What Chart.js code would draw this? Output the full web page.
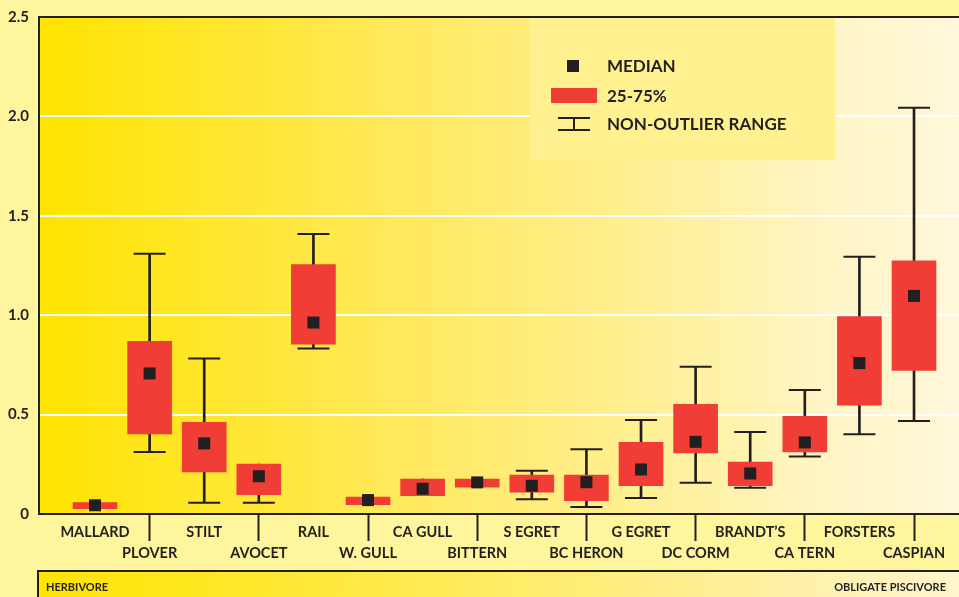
<!DOCTYPE html>
<html>
<head>
<meta charset="utf-8">
<script src="https://cdn.jsdelivr.net/npm/chart.js@4.4.1/dist/chart.umd.min.js"></script>
<style>
  html, body { margin: 0; padding: 0; background: #fff59c; }
  #wrap { width: 959px; height: 597px; position: relative; }
</style>
</head>
<body>
<div id="wrap"><canvas id="chart"></canvas></div>
<script>
const FONT = "Lato, 'Open Sans', sans-serif";
const INK = "#231f20";
const RED = "#f03d35";

const categories = ["MALLARD", "PLOVER", "STILT", "AVOCET", "RAIL", "W. GULL", "CA GULL", "BITTERN",
  "S EGRET", "BC HERON", "G EGRET", "DC CORM", "BRANDT\u2019S", "CA TERN", "FORSTERS", "CASPIAN"];
const medians = [0.044, 0.707, 0.355, 0.19, 0.963, 0.07, 0.127, 0.159, 0.142, 0.16, 0.224, 0.363, 0.204, 0.36, 0.759, 1.097];
const q1 = [0.027, 0.403, 0.212, 0.097, 0.854, 0.047, 0.092, 0.135, 0.11, 0.067, 0.142, 0.307, 0.142, 0.312, 0.548, 0.722];
const q3 = [0.057, 0.868, 0.461, 0.251, 1.254, 0.085, 0.176, 0.176, 0.196, 0.196, 0.361, 0.552, 0.261, 0.491, 0.993, 1.274];
const whiskLow = [null, 0.312, 0.057, 0.057, 0.832, null, null, null, 0.074, 0.035, 0.08, 0.157, 0.132, 0.289, 0.401, 0.468];
const whiskHigh = [null, 1.309, 0.782, null, 1.409, null, null, null, 0.217, 0.326, 0.473, 0.741, 0.413, 0.624, 1.294, 2.043];
const yTicks = [0, 0.5, 1.0, 1.5, 2.0, 2.5];
const bandLabels = ["HERBIVORE", "OBLIGATE PISCIVORE"];
const legendLabels = ["MEDIAN", "25-75%", "NON-OUTLIER RANGE"];

const idx = categories.map((c, i) => i);

const backdrop = {
  id: "backdrop",
  beforeDraw(chart) {
    const { ctx, chartArea: a, width, height } = chart;
    ctx.save();
    ctx.fillStyle = "#fff59c";
    ctx.fillRect(0, 0, width, height);

    let g = ctx.createLinearGradient(a.left, 0, a.right, 0);
    g.addColorStop(0, "#ffe400");
    g.addColorStop(0.4, "#ffe95e");
    g.addColorStop(0.62, "#ffef8c");
    g.addColorStop(0.86, "#fff5c6");
    g.addColorStop(1, "#fff8da");
    ctx.fillStyle = g;
    ctx.fillRect(a.left, a.top, a.right - a.left, a.bottom - a.top);

    // bottom band
    const top = 571;
    g = ctx.createLinearGradient(38, 0, width, 0);
    g.addColorStop(0, "#ffe500");
    g.addColorStop(0.3, "#ffe93a");
    g.addColorStop(0.8, "#fff0a4");
    g.addColorStop(1, "#fff6cc");
    ctx.fillStyle = g;
    ctx.fillRect(38, top, width - 38, height - top);
    ctx.strokeStyle = INK;
    ctx.lineWidth = 2;
    ctx.beginPath();
    ctx.moveTo(38, height);
    ctx.lineTo(38, top);
    ctx.lineTo(width, top);
    ctx.stroke();

    ctx.fillStyle = INK;
    ctx.font = "bold 11px " + FONT;
    ctx.textBaseline = "middle";
    ctx.textAlign = "left";
    ctx.fillText(bandLabels[0], 46, 587);
    ctx.textAlign = "right";
    ctx.fillText(bandLabels[1], 946, 587);
    ctx.restore();
  },
  afterDraw(chart) {
    const { ctx } = chart;
    ctx.save();
    ctx.fillStyle = "#fff090";
    ctx.fillRect(530, 18, 305, 142);

    ctx.fillStyle = INK;
    ctx.fillRect(567, 60, 12, 12);
    ctx.fillStyle = RED;
    ctx.fillRect(551, 88, 46, 15);
    ctx.strokeStyle = INK;
    ctx.lineWidth = 2;
    ctx.beginPath();
    ctx.moveTo(558, 118); ctx.lineTo(590, 118);
    ctx.moveTo(558, 130); ctx.lineTo(590, 130);
    ctx.moveTo(574, 118); ctx.lineTo(574, 130);
    ctx.stroke();

    ctx.fillStyle = INK;
    ctx.font = "bold 17px " + FONT;
    ctx.textAlign = "left";
    ctx.textBaseline = "middle";
    ctx.fillText(legendLabels[0], 607, 67);
    ctx.fillText(legendLabels[1], 607, 97);
    ctx.fillText(legendLabels[2], 607, 125);
    ctx.restore();
  }
};

new Chart(document.getElementById("chart"), {
  type: "bar",
  data: {
    datasets: [
      {
        type: "scatter",
        label: "Median",
        data: idx.map((i) => ({ x: i, y: medians[i] })),
        pointStyle: "rect",
        radius: 8.5,
        backgroundColor: INK,
        borderWidth: 0,
        order: 0
      },
      {
        label: "25-75%",
        data: idx.map((i) => ({ x: i, y: [q1[i], q3[i]] })),
        backgroundColor: RED,
        borderWidth: 0,
        barThickness: 44,
        grouped: false,
        order: 1
      },
      {
        type: "scatter",
        label: "Caps",
        data: idx.flatMap((i) => [
          whiskLow[i] == null ? null : { x: i, y: whiskLow[i] },
          whiskHigh[i] == null ? null : { x: i, y: whiskHigh[i] }
        ]).filter(Boolean),
        pointStyle: "line",
        radius: 16,
        borderColor: INK,
        borderWidth: 2,
        order: 2
      },
      {
        label: "Whiskers",
        data: idx.map((i) => ({ x: i, y: [whiskLow[i] ?? q1[i], whiskHigh[i] ?? q3[i]] })),
        backgroundColor: INK,
        borderWidth: 0,
        barThickness: 2,
        grouped: false,
        order: 3
      }
    ]
  },
  options: {
    responsive: true,
    maintainAspectRatio: false,
    animation: false,
    layout: { autoPadding: false, padding: { top: 17, right: 0, left: 0, bottom: 0 } },
    plugins: {
      legend: { display: false },
      tooltip: { enabled: false }
    },
    scales: {
      x: {
        type: "linear",
        offset: false,
        min: -1.026,
        max: 15.824,
        afterBuildTicks: (scale) => { scale.ticks = idx.map((i) => ({ value: i })); },
        afterFit: (scale) => {
          scale.height = 83;
          scale.paddingLeft = 0;
          scale.paddingRight = 0;
        },
        ticks: {
          autoSkip: false,
          maxRotation: 0,
          padding: -19,
          color: INK,
          font: { family: FONT, size: 14.5, weight: "bold", lineHeight: "21px" },
          callback: (v) => {
            const i = Math.round(v);
            return i % 2 ? ["", categories[i]] : [categories[i]];
          }
        },
        grid: {
          offset: false,
          drawOnChartArea: false,
          drawTicks: true,
          tickLength: 27,
          tickWidth: 2,
          tickColor: (ctx) => (ctx.index % 2 ? INK : "rgba(0,0,0,0)")
        },
        border: { display: true, color: INK, width: 2 }
      },
      y: {
        min: 0,
        max: 2.5,
        afterBuildTicks: (scale) => { scale.ticks = yTicks.map((v) => ({ value: v })); },
        afterFit: (scale) => {
          scale.width = 39;
          scale.paddingTop = 0;
          scale.paddingBottom = 0;
        },
        ticks: {
          padding: 10,
          color: INK,
          font: { family: FONT, size: 15, weight: "bold" },
          callback: (v) => (v === 0 ? "0" : v.toFixed(1))
        },
        grid: {
          drawTicks: false,
          lineWidth: 2,
          color: (ctx) => {
            const v = ctx.tick && ctx.tick.value;
            if (v === 2.5) return INK;
            if (v === 0) return "rgba(0,0,0,0)";
            return "#ffffff";
          }
        },
        border: { display: true, color: INK, width: 2 }
      }
    }
  },
  plugins: [backdrop]
});
</script>
</body>
</html>
